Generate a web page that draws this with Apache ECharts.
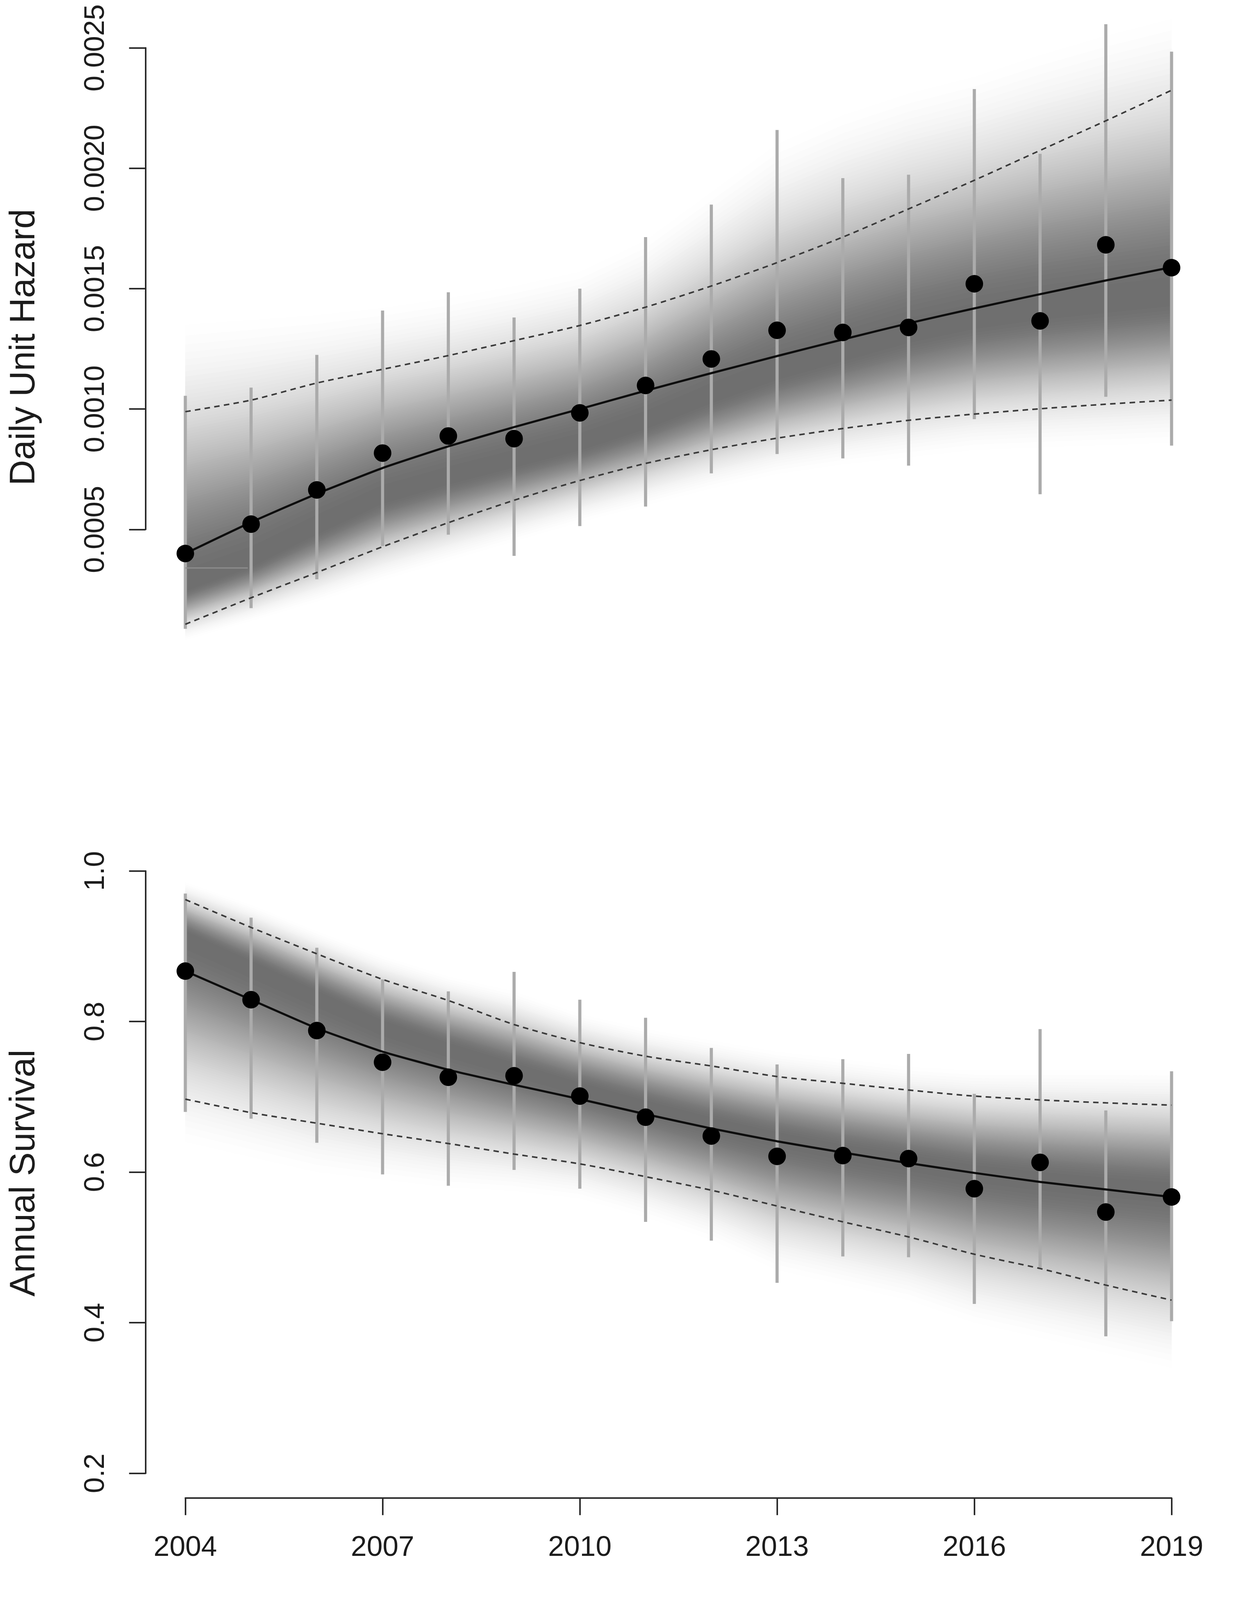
<!DOCTYPE html>
<html>
<head>
<meta charset="utf-8">
<script src="https://cdn.jsdelivr.net/npm/echarts@6/dist/echarts.min.js"></script>
<style>
html,body{margin:0;padding:0;background:#ffffff;}
#chart{width:3162px;height:4197px;}
</style>
</head>
<body>
<div id="chart"></div>
<script>
// ---------------- data ----------------
const years = [2004,2005,2006,2007,2008,2009,2010,2011,2012,2013,2014,2015,2016,2017,2018,2019];
const yearTicks = [2004,2007,2010,2013,2016,2019];
const hazardTicks = [0.0005,0.0010,0.0015,0.0020,0.0025];
const survivalTicks = [0.2,0.4,0.6,0.8,1.0];

// Daily unit hazard (top panel)
const hazardEst = [0.00040,0.000522,0.000664,0.000817,0.000888,0.000877,0.000984,0.001098,0.001208,0.001327,0.001318,0.001339,0.001520,0.001366,0.001682,0.001587];
const hazardLo  = [0.000087,0.000173,0.000293,0.000431,0.000478,0.000390,0.000514,0.000595,0.000733,0.000813,0.000795,0.000765,0.000958,0.000646,0.001051,0.000848];
const hazardHi  = [0.001055,0.001089,0.001225,0.001409,0.001485,0.001380,0.001500,0.001714,0.001849,0.002159,0.001959,0.001973,0.002329,0.002060,0.002598,0.002484];
const hazardFit = [0.000400,0.000530,0.000648,0.000755,0.000845,0.000925,0.001000,0.001076,0.001149,0.001220,0.001289,0.001356,0.001418,0.001477,0.001534,0.001589];
const hazardUpper = [0.000989,0.001037,0.001108,0.001165,0.001222,0.001284,0.001347,0.001423,0.001511,0.001608,0.001714,0.001831,0.001950,0.002074,0.002197,0.002324];
const hazardLower = [0.000106,0.000216,0.000321,0.000428,0.000528,0.000621,0.000703,0.000774,0.000831,0.000879,0.000919,0.000953,0.000979,0.001001,0.001020,0.001037];
const hazardShadeTop = [0.00135,0.00137,0.00139,0.00142,0.00146,0.00151,0.00157,0.00170,0.00190,0.00210,0.00222,0.00231,0.00238,0.00247,0.00255,0.00262];
const hazardShadeMid = [0.00026,0.00036,0.00050,0.00063,0.00071,0.00078,0.00085,0.00094,0.00105,0.00115,0.00123,0.00131,0.00137,0.00141,0.00144,0.00147];
const hazardShadeBot = [0.00004,0.00012,0.00020,0.00029,0.00037,0.00045,0.00053,0.00060,0.00067,0.00073,0.00077,0.00080,0.00083,0.00084,0.00085,0.00086];
// thin grey segment seen between 2004 and 2005 in the top panel
const hazardSegYears = [2004, 2004.95];
const hazardSegVals  = [0.00034, 0.00034];

// Annual survival (bottom panel)
const survEst = [0.867,0.829,0.788,0.746,0.726,0.728,0.701,0.673,0.648,0.621,0.622,0.618,0.578,0.613,0.547,0.567];
const survLo  = [0.680,0.671,0.639,0.597,0.582,0.603,0.578,0.534,0.509,0.453,0.488,0.487,0.425,0.473,0.382,0.402];
const survHi  = [0.970,0.938,0.898,0.856,0.840,0.866,0.829,0.805,0.765,0.743,0.750,0.757,0.704,0.790,0.682,0.734];
const survFit = [0.867,0.829,0.791,0.760,0.736,0.716,0.697,0.677,0.658,0.641,0.626,0.612,0.599,0.587,0.577,0.567];
const survUpper = [0.962,0.925,0.890,0.856,0.828,0.796,0.772,0.754,0.741,0.727,0.718,0.709,0.701,0.696,0.692,0.689];
const survLower = [0.697,0.679,0.665,0.651,0.638,0.624,0.611,0.594,0.576,0.555,0.534,0.514,0.491,0.472,0.450,0.430];
const survShadeTop = [0.985,0.955,0.920,0.887,0.860,0.840,0.810,0.790,0.775,0.760,0.750,0.740,0.735,0.735,0.735,0.735];
const survShadeMid = [0.915,0.875,0.835,0.795,0.765,0.738,0.712,0.688,0.665,0.645,0.628,0.614,0.600,0.590,0.582,0.575];
const survShadeBot = [0.640,0.620,0.600,0.590,0.580,0.575,0.565,0.540,0.510,0.470,0.450,0.430,0.400,0.380,0.360,0.340];

// ---------------- styling helpers ----------------
const FONT = '"Liberation Sans", Arial, Helvetica, sans-serif';
const AXIS_COLOR = '#2b2b2b';
const TEXT_COLOR = '#1c1c1c';

const N_LAYERS = 70, FALLOFF = 3, G_MIN = 110;
const layerS = [], layerFill = [], layerIdx = [];
for (let k = 0; k < N_LAYERS; k++) {
  const lev = k / N_LAYERS;
  const e = Math.exp(-FALLOFF);
  layerS.push(Math.sqrt(-Math.log(lev * (1 - e) + e) / FALLOFF));
  const c = (k + 0.5) / N_LAYERS;
  const g = Math.round(255 - c * (255 - G_MIN));
  layerFill.push('rgb(' + g + ',' + g + ',' + g + ')');
  layerIdx.push(k);
}

function shadeSeries(idx, top, mid, bot) {
  return {
    type: 'custom', xAxisIndex: idx, yAxisIndex: idx, z: 1, silent: true, clip: false,
    data: layerIdx.map(k => [years[0], mid[0], k]),
    encode: {x: 0, y: 1},
    renderItem: function (params, api) {
      const k = api.value(2);
      const s = layerS[k];
      const pts = [];
      for (let i = 0; i < years.length; i++) {
        pts.push(api.coord([years[i], mid[i] + s * (top[i] - mid[i])]));
      }
      for (let i = years.length - 1; i >= 0; i--) {
        pts.push(api.coord([years[i], mid[i] - s * (mid[i] - bot[i])]));
      }
      return {type: 'polygon', shape: {points: pts}, style: {fill: layerFill[k], stroke: layerFill[k], lineWidth: 0.5}};
    }
  };
}

function errorBarSeries(idx, lo, hi) {
  return {
    type: 'custom', xAxisIndex: idx, yAxisIndex: idx, z: 2, silent: true, clip: false,
    data: years.map((y, i) => [y, lo[i], hi[i]]),
    encode: {x: 0, y: [1, 2]},
    renderItem: function (params, api) {
      const p1 = api.coord([api.value(0), api.value(1)]);
      const p2 = api.coord([api.value(0), api.value(2)]);
      return {type: 'line', shape: {x1: p1[0], y1: p1[1], x2: p2[0], y2: p2[1]},
              style: {stroke: '#ababab', lineWidth: 8}};
    }
  };
}

function lineSeries(idx, vals, dashed) {
  return {
    type: 'line', xAxisIndex: idx, yAxisIndex: idx, z: dashed ? 3 : 4, silent: true, clip: false,
    symbol: 'none', smooth: dashed ? 0.25 : 0.15,
    data: years.map((y, i) => [y, vals[i]]),
    lineStyle: dashed ? {color: '#3a3a3a', width: 4, type: [14, 11], opacity: 1}
                      : {color: '#0d0d0d', width: 5.5, opacity: 1}
  };
}

function pointSeries(idx, vals) {
  return {
    type: 'scatter', xAxisIndex: idx, yAxisIndex: idx, z: 5, silent: true, clip: false,
    symbol: 'circle', symbolSize: 45,
    data: years.map((y, i) => [y, vals[i]]),
    itemStyle: {color: '#000000', opacity: 1}
  };
}

function yAxisCfg(idx, ticks, decimals) {
  return {
    type: 'value', gridIndex: idx,
    min: ticks[0], max: ticks[ticks.length - 1], interval: ticks[1] - ticks[0],
    offset: 102,
    axisLine: {show: true, onZero: false, lineStyle: {color: AXIS_COLOR, width: 4}},
    axisTick: {show: true, inside: false, length: 42, lineStyle: {color: AXIS_COLOR, width: 4}},
    axisLabel: {show: true, rotate: 90, margin: 90, fontSize: 73, fontFamily: FONT, color: TEXT_COLOR,
                formatter: v => Number(v).toFixed(decimals)},
    splitLine: {show: false}
  };
}

const chart = echarts.init(document.getElementById('chart'), null, {renderer: 'canvas', width: 3162, height: 4197});

const option = {
  animation: false,
  backgroundColor: '#ffffff',
  grid: [
    {left: 474.5, top: 122.5, width: 2525.1, height: 1232.8, containLabel: false, outerBoundsMode: 'none'},
    {left: 474.5, top: 2229.7, width: 2525.1, height: 1542.0, containLabel: false, outerBoundsMode: 'none'}
  ],
  xAxis: [
    {type: 'value', gridIndex: 0, min: yearTicks[0], max: yearTicks[yearTicks.length - 1], show: false, splitLine: {show: false}},
    {type: 'value', gridIndex: 1, min: yearTicks[0], max: yearTicks[yearTicks.length - 1],
     interval: yearTicks[1] - yearTicks[0], offset: 63,
     name: 'Year', nameLocation: 'middle', nameGap: 258,
     nameTextStyle: {fontSize: 90, fontFamily: FONT, color: TEXT_COLOR},
     axisLine: {show: true, onZero: false, lineStyle: {color: AXIS_COLOR, width: 4}},
     axisTick: {show: true, length: 44, lineStyle: {color: AXIS_COLOR, width: 4}},
     axisLabel: {show: true, margin: 92, fontSize: 73, fontFamily: FONT, color: TEXT_COLOR, formatter: v => String(v)},
     splitLine: {show: false}}
  ],
  yAxis: [
    yAxisCfg(0, hazardTicks, 4),
    yAxisCfg(1, survivalTicks, 1)
  ],
  graphic: [
    {type: 'text', x: 63, y: 889, rotation: Math.PI / 2, silent: true,
     style: {text: 'Daily Unit Hazard', font: '91px ' + FONT, fill: TEXT_COLOR, textAlign: 'center', textVerticalAlign: 'middle'}},
    {type: 'text', x: 63, y: 3003, rotation: Math.PI / 2, silent: true,
     style: {text: 'Annual Survival', font: '91px ' + FONT, fill: TEXT_COLOR, textAlign: 'center', textVerticalAlign: 'middle'}}
  ],
  series: [
    shadeSeries(0, hazardShadeTop, hazardShadeMid, hazardShadeBot),
    {type: 'line', xAxisIndex: 0, yAxisIndex: 0, z: 2, silent: true, clip: false, symbol: 'none',
     data: hazardSegYears.map((y, i) => [y, hazardSegVals[i]]),
     lineStyle: {color: '#8e8e8e', width: 3}},
    errorBarSeries(0, hazardLo, hazardHi),
    lineSeries(0, hazardUpper, true),
    lineSeries(0, hazardLower, true),
    lineSeries(0, hazardFit, false),
    pointSeries(0, hazardEst),

    shadeSeries(1, survShadeTop, survShadeMid, survShadeBot),
    errorBarSeries(1, survLo, survHi),
    lineSeries(1, survUpper, true),
    lineSeries(1, survLower, true),
    lineSeries(1, survFit, false),
    pointSeries(1, survEst)
  ]
};
chart.setOption(option);
</script>
</body>
</html>
